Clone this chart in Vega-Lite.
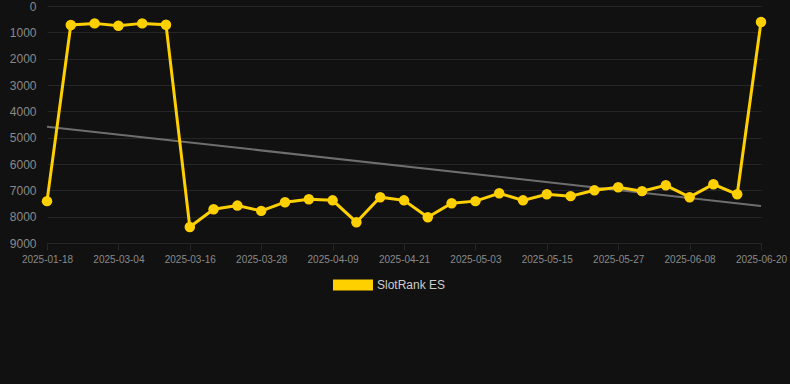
{
  "$schema": "https://vega.github.io/schema/vega-lite/v6.json",
  "autosize": {"type": "none"},
  "width": 750,
  "height": 237,
  "padding": {"left": 40, "top": 6, "right": 0, "bottom": 141},
  "background": "#111111",
  "config": {
    "view": {"stroke": null},
    "font": "Liberation Sans",
    "axis": {"domain": false, "gridColor": "#262626", "tickColor": "#262626", "labelColor": "#8a8a8a", "labelFont": "Liberation Sans"}
  },
  "datasets": {
    "d": [
      {"i": 0, "date": "2025-01-18", "rank": 7410},
      {"i": 1, "date": "2025-02-24", "rank": 720},
      {"i": 2, "date": "2025-02-28", "rank": 660},
      {"i": 3, "date": "2025-03-04", "rank": 750},
      {"i": 4, "date": "2025-03-08", "rank": 660},
      {"i": 5, "date": "2025-03-12", "rank": 710},
      {"i": 6, "date": "2025-03-16", "rank": 8390},
      {"i": 7, "date": "2025-03-20", "rank": 7720},
      {"i": 8, "date": "2025-03-24", "rank": 7580},
      {"i": 9, "date": "2025-03-28", "rank": 7780},
      {"i": 10, "date": "2025-04-01", "rank": 7450},
      {"i": 11, "date": "2025-04-05", "rank": 7340},
      {"i": 12, "date": "2025-04-09", "rank": 7380},
      {"i": 13, "date": "2025-04-13", "rank": 8210},
      {"i": 14, "date": "2025-04-17", "rank": 7260},
      {"i": 15, "date": "2025-04-21", "rank": 7380},
      {"i": 16, "date": "2025-04-25", "rank": 8020},
      {"i": 17, "date": "2025-04-29", "rank": 7490},
      {"i": 18, "date": "2025-05-03", "rank": 7410},
      {"i": 19, "date": "2025-05-07", "rank": 7110},
      {"i": 20, "date": "2025-05-11", "rank": 7380},
      {"i": 21, "date": "2025-05-15", "rank": 7150},
      {"i": 22, "date": "2025-05-19", "rank": 7220},
      {"i": 23, "date": "2025-05-23", "rank": 7000},
      {"i": 24, "date": "2025-05-27", "rank": 6880},
      {"i": 25, "date": "2025-05-31", "rank": 7030},
      {"i": 26, "date": "2025-06-04", "rank": 6810},
      {"i": 27, "date": "2025-06-08", "rank": 7260},
      {"i": 28, "date": "2025-06-12", "rank": 6770},
      {"i": 29, "date": "2025-06-16", "rank": 7150},
      {"i": 30, "date": "2025-06-20", "rank": 610}
    ]
  },
  "data": {"name": "d"},
  "encoding": {
    "x": {
      "field": "date", "type": "ordinal",
      "scale": {"type": "point", "range": [7, 721], "padding": 0},
      "axis": {
        "title": null, "labelAngle": 0, "labelFontSize": 10, "tickSize": 7, "labelPadding": 4,
        "values": ["2025-01-18", "2025-03-04", "2025-03-16", "2025-03-28", "2025-04-09", "2025-04-21", "2025-05-03", "2025-05-15", "2025-05-27", "2025-06-08", "2025-06-20"]
      }
    },
    "y": {
      "field": "rank", "type": "quantitative",
      "scale": {"domain": [0, 9000], "reverse": true, "nice": false, "zero": false},
      "axis": {"title": null, "values": [0, 1000, 2000, 3000, 4000, 5000, 6000, 7000, 8000, 9000], "labelFontSize": 12, "tickSize": 0, "labelPadding": 4, "format": "d"}
    }
  },
  "layer": [
    {
      "transform": [
        {"regression": "rank", "on": "i", "method": "linear"},
        {"lookup": "i", "from": {"data": {"name": "d"}, "key": "i", "fields": ["date"]}}
      ],
      "mark": {"type": "line", "color": "#6e6e6e", "strokeWidth": 2}
    },
    {
      "mark": {"type": "line", "strokeWidth": 3},
      "encoding": {
        "color": {
          "datum": "SlotRank ES",
          "scale": {"range": ["#ffd000"]},
          "legend": {
            "title": null, "orient": "none", "legendX": 293, "legendY": 259,
            "symbolType": "M-1,-0.275L1,-0.275L1,0.275L-1,0.275Z", "symbolSize": 1600,
            "symbolStrokeWidth": 0, "labelColor": "#cccccc", "labelFontSize": 12, "labelFont": "Liberation Sans"
          }
        }
      }
    },
    {
      "mark": {"type": "point", "filled": true, "size": 110, "opacity": 1},
      "encoding": {"color": {"datum": "SlotRank ES"}}
    }
  ]
}
